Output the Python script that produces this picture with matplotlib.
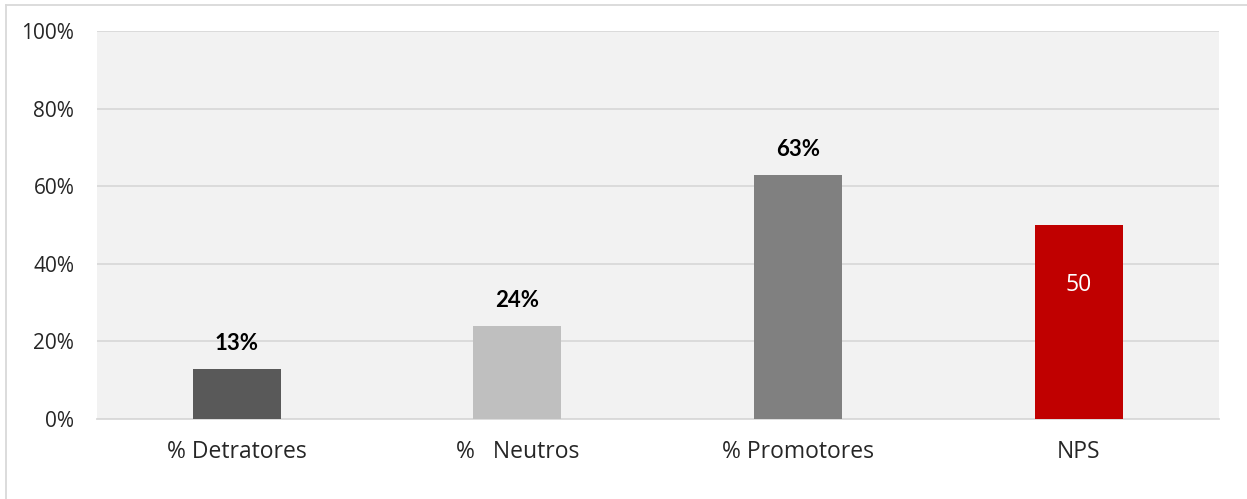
import matplotlib.pyplot as plt
from matplotlib.lines import Line2D
from matplotlib.ticker import PercentFormatter

# ─── Data ─────────────────────────────────────────────────────────────────────
categories = ["% Detratores", "%   Neutros", "% Promotores", "NPS"]
values = [0.13, 0.24, 0.63, 0.50]
value_labels = ["13%", "24%", "63%", "50"]
bar_colors = ["#595959", "#bfbfbf", "#808080", "#c00000"]

plt.rcParams["font.family"] = ["Open Sans", "DejaVu Sans"]

fig = plt.figure(figsize=(12.47, 4.99), dpi=100)
ax = fig.add_axes([0.0774, 0.1603, 0.9001, 0.7776])

x = range(len(categories))
bars = ax.bar(x, values, width=0.314, color=bar_colors, zorder=3)

# labels: above for the percentages, inside (white) for NPS
for i, (b, lab) in enumerate(zip(bars, value_labels)):
    top = b.get_height()
    if categories[i] == "NPS":
        ax.annotate(lab, (b.get_x() + b.get_width() / 2, top),
                    xytext=(0, -43), textcoords="offset points",
                    ha="center", va="center", color="white", fontsize=16.5)
    else:
        ax.annotate(lab, (b.get_x() + b.get_width() / 2, top),
                    xytext=(0, 18), textcoords="offset points",
                    ha="center", va="center", color="black",
                    fontsize=16, fontweight="bold", family=["Lato", "DejaVu Sans"])

ax.set_xlim(-0.5, len(categories) - 0.5)
ax.set_ylim(0, 1.0)
ax.set_yticks([0, 0.2, 0.4, 0.6, 0.8, 1.0])
ax.yaxis.set_major_formatter(PercentFormatter(1.0, decimals=0))
ax.set_xticks(list(x))
ax.set_xticklabels(categories)

ax.set_facecolor("#f2f2f2")
ax.grid(axis="y", color="#d9d9d9", linewidth=1.3, zorder=0)
ax.set_axisbelow(True)
for s in ["top", "right", "left"]:
    ax.spines[s].set_visible(False)
ax.spines["bottom"].set_color("#d9d9d9")
ax.spines["bottom"].set_linewidth(1.3)

ax.tick_params(axis="both", length=0, labelcolor="#262626")
ax.tick_params(axis="y", labelsize=15, pad=16)
ax.tick_params(axis="x", labelsize=16.5, pad=15)

# outer chart border (only top and left show in the crop)
fig.add_artist(Line2D([6 / 1247, 6 / 1247], [0, 1 - 5 / 499], color="#d9d9d9", lw=1.3))
fig.add_artist(Line2D([6 / 1247, 1], [1 - 5 / 499, 1 - 5 / 499], color="#d9d9d9", lw=1.3))

fig.savefig("out.png", dpi=100, facecolor="white")
